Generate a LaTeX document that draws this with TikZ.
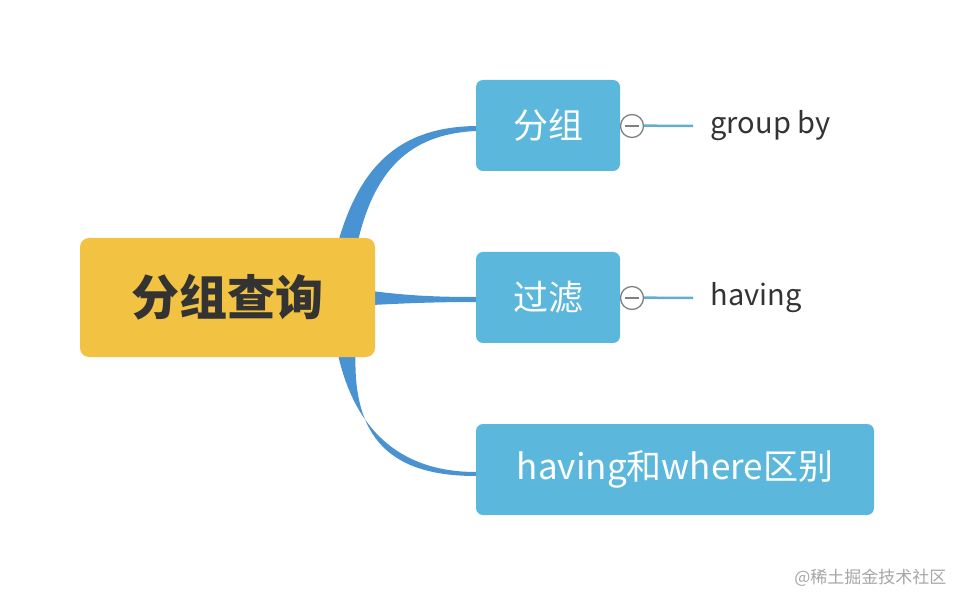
\documentclass[tikz,border=0pt]{standalone}
\usepackage{fontspec}
\setmainfont{Noto Sans CJK SC}
\definecolor{rootc}{HTML}{F2C242}
\definecolor{childc}{HTML}{5BB8DC}
\definecolor{branch}{HTML}{4A93D3}
\definecolor{leafline}{HTML}{62AECB}
\definecolor{txt}{HTML}{333333}
\begin{document}
\begin{tikzpicture}[x=1pt,y=-1pt,
  rootbox/.style={fill=rootc,rounded corners=9pt,minimum width=295pt,minimum height=119pt,text=txt,font=\fontsize{48}{54}\selectfont\bfseries},
  childbox/.style={fill=childc,rounded corners=7pt,minimum height=91pt,text=white,font=\fontsize{35}{40}\selectfont},
  leaftext/.style={text=txt,font=\fontsize{29}{34}\selectfont,anchor=west},
  collapse/.style={circle,draw=gray,line width=1.3pt,fill=white,minimum size=23pt,inner sep=0pt}]
\useasboundingbox (0,0) rectangle (954,596);
% branches
\fill[branch] (336,250) .. controls (358,165) and (400,127) .. (476,126) -- (476,131) .. controls (408,134) and (372,172) .. (356,250) -- cycle;
\fill[branch] (372,291) .. controls (410,296) and (440,297) .. (476,297) -- (476,302) .. controls (440,302) and (410,303) .. (372,305) -- cycle;
\fill[branch] (336,345) .. controls (352,430) and (400,472) .. (476,472) -- (476,476) .. controls (392,476) and (350,440) .. (356,345) -- cycle;
\node[rootbox] (root) at (227.5,297.5) {分组查询};
\node[childbox,minimum width=144pt] (c1) at (548,125.5) {分组};
\node[childbox,minimum width=144pt] (c2) at (548,297.5) {过滤};
\node[childbox,minimum width=398pt] (c3) at (675,469.5) {having和where区别};
\coordinate (e1) at (693,126);
\coordinate (e2) at (693,298);
\draw[leafline,line width=2.5pt] (c1.east) -- (e1);
\draw[leafline,line width=2.5pt] (c2.east) -- (e2);
\node[collapse] (m1) at (632,126) {};
\node[collapse] (m2) at (632,298) {};
\draw[gray,line width=1.3pt] ([xshift=-7pt]m1.center) -- ([xshift=7pt]m1.center);
\draw[gray,line width=1.3pt] ([xshift=-7pt]m2.center) -- ([xshift=7pt]m2.center);
\node[leaftext] (l1) at (707,126) {group by};
\node[leaftext] (l2) at (707,298) {having};
\node[text=gray!70,font=\fontsize{17}{20}\selectfont,anchor=east] (wm) at (950,578) {@稀土掘金技术社区};
\end{tikzpicture}
\end{document}
